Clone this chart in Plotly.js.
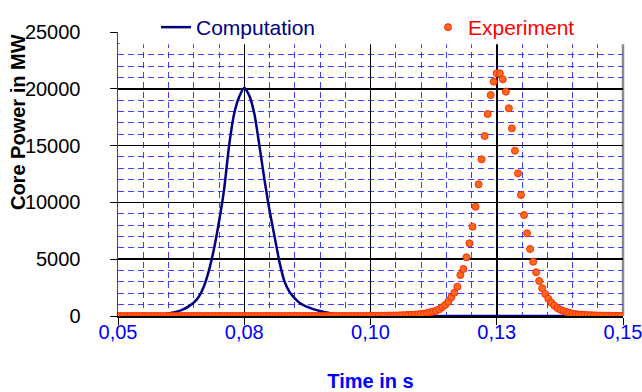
<!DOCTYPE html>
<html><head><meta charset="utf-8">
<script src="https://cdn.plot.ly/plotly-3.0.1.min.js"></script>
<style>html,body{margin:0;padding:0;background:#fff}#chart{width:642px;height:392px}</style>
</head><body><div id="chart"></div>
<script>
// Time axis (s) of each series: start + step
const computationStart = 0.05;
const computationStep = 0.001;
// Computation: core power in MW, one value per ms from 0.050 s to 0.150 s
const computationPower = [
  0, 0, 0, 0, 5, 15, 35, 60, 100, 150,
  220, 300, 430, 600, 850, 1180, 1700, 2600, 4000, 5900,
  8300, 11100, 15000, 17800, 19300, 20100, 19400, 17800, 15000, 12000,
  9300, 7000, 4700, 3000, 2100, 1550, 1150, 900, 720, 560,
  440, 330, 250, 180, 130, 90, 60, 40, 25, 15,
  5, 0, 0, 0, 0, 0, 0, 0, 0, 0,
  0, 0, 0, 0, 0, 0, 0, 0, 0, 0,
  0, 0, 0, 0, 0, 0, 0, 0, 0, 0,
  0, 0, 0, 0, 0, 0, 0, 0, 0, 0,
  0, 0, 0, 0, 0, 0, 0, 0, 0, 0,
  0
];

const experimentStart = 0.05;
const experimentStep = 0.0006;
// Experiment: core power in MW, one sample every 0.6 ms from 0.050 s
const experimentPower = [
  0, 0, 0, 0, 0, 0, 0, 0, 0, 0,
  0, 0, 0, 0, 0, 0, 0, 0, 0, 0,
  0, 0, 0, 0, 0, 0, 0, 0, 0, 0,
  0, 0, 0, 0, 0, 0, 0, 0, 0, 0,
  0, 0, 0, 0, 0, 0, 0, 0, 0, 0,
  0, 0, 0, 0, 0, 0, 0, 0, 0, 0,
  0, 0, 0, 0, 0, 0, 0, 0, 0, 0,
  0, 0, 0, 0, 0, 0, 0, 0, 0, 0,
  5, 5, 8, 10, 12, 15, 20, 25, 30, 35,
  40, 45, 50, 60, 70, 80, 95, 110, 130, 150,
  180, 200, 260, 330, 380, 470, 590, 770, 970, 1260,
  1640, 2050, 2580, 3610, 4140, 5170, 6400, 7860, 9620, 11590,
  13790, 15845, 17780, 19450, 20630, 21360, 21360, 20830, 19750, 18280,
  16520, 14550, 12560, 10650, 8890, 7280, 5900, 4780, 3850, 3080,
  2440, 1940, 1520, 1170, 910, 700, 550, 440, 350, 290,
  200, 170, 140, 120, 100, 85, 70, 60, 50, 40,
  35, 30, 25, 20, 15, 10, 10
];

const seriesNames = ['Computation', 'Experiment'];
const xTickValues = [0.05, 0.075, 0.1, 0.125, 0.15];
const xTickLabels = ['0,05', '0,08', '0,10', '0,13', '0,15'];
const yTickValues = [0, 5000, 10000, 15000, 20000, 25000];
const yTickLabels = ['0', '5000', '10000', '15000', '20000', '25000'];
const xTitle = 'Time in s';
const yTitle = 'Core Power in MW';

const FONT = 'Arial, "Liberation Sans", sans-serif';

const traces = [
  {
    type: 'scatter', mode: 'lines',
    name: '<span style="color:#000080">' + seriesNames[0] + '</span>',
    x0: computationStart, dx: computationStep, y: computationPower,
    line: {color: '#000080', width: 2.5, shape: 'spline', smoothing: 0.6},
    legendwidth: 227,
    hoverinfo: 'skip'
  },
  {
    type: 'scatter', mode: 'markers',
    name: '<span style="color:#ff0000">' + seriesNames[1] + '</span>',
    x0: experimentStart, dx: experimentStep, y: experimentPower,
    marker: {color: '#ff6a1a', size: 7, line: {color: '#ff2a00', width: 1}},
    legendwidth: 110,
    hoverinfo: 'skip'
  }
];

const layout = {
  width: 642, height: 392,
  margin: {l: 118, r: 19, t: 32, b: 76, pad: 0, autoexpand: false},
  paper_bgcolor: '#ffffff', plot_bgcolor: '#ffffff',
  font: {family: FONT, size: 20, color: '#000000'},
  showlegend: true,
  legend: {
    orientation: 'h', x: 0.0752, xanchor: 'left', y: 0.9437, yanchor: 'bottom',
    bgcolor: 'rgba(0,0,0,0)', borderwidth: 0,
    font: {family: FONT, size: 21}, itemwidth: 30
  },
  xaxis: {
    range: [0.05, 0.15], tickmode: 'array', tickvals: xTickValues, ticktext: xTickLabels,
    tickfont: {family: FONT, size: 20, color: '#0000ff'}, ticklabeloverflow: 'allow',
    ticks: 'outside', ticklen: 7, tickcolor: '#000', tickwidth: 1, ticklabelstandoff: -10,
    showgrid: true, gridcolor: '#000000', gridwidth: 1.5,
    showline: true, linecolor: '#000000', linewidth: 1.5, zeroline: false,
    minor: {tickmode: 'linear', tick0: 0.05, dtick: 0.005, showgrid: true,
            gridcolor: 'rgba(30,30,255,0.85)', griddash: '6px,4px', gridwidth: 1, ticks: ''},
    title: {text: '<b>' + xTitle + '</b>', font: {family: FONT, size: 20, color: '#0000ff'}, standoff: 34}
  },
  yaxis: {
    range: [0, 25000], tickmode: 'array', tickvals: yTickValues, ticktext: yTickLabels,
    tickfont: {family: FONT, size: 20, color: '#000000'},
    ticks: 'outside', ticklen: 7, tickcolor: '#000', tickwidth: 1, ticklabelstandoff: 25,
    showgrid: true, gridcolor: '#000000', gridwidth: 1.5,
    showline: true, linecolor: '#444444', linewidth: 1.5, zeroline: false,
    minor: {tickmode: 'linear', tick0: 0, dtick: 1000, showgrid: true,
            gridcolor: 'rgba(30,30,255,0.85)', griddash: '6px,4px', gridwidth: 1, ticks: ''}
  },
  shapes: [
    {type: 'line', layer: 'between', xref: 'paper', yref: 'paper', x0: 1, x1: 1, y0: 0, y1: 1,
     line: {color: '#8c8c8c', width: 2.5}},
    {type: 'rect', layer: 'above', xref: 'paper', yref: 'paper', x0: 0.003, x1: 1.03, y0: 0.957, y1: 1.0,
     fillcolor: '#ffffff', line: {width: 0}}
  ],
  annotations: [{
    text: '<b>' + yTitle + '</b>', textangle: -90, showarrow: false,
    xref: 'paper', yref: 'paper', x: -0.198, y: 0.683, xanchor: 'center', yanchor: 'middle',
    font: {family: FONT, size: 20, color: '#000000'}
  }]
};

Plotly.newPlot('chart', traces, layout, {staticPlot: true, displayModeBar: false});
</script>
</body></html>
